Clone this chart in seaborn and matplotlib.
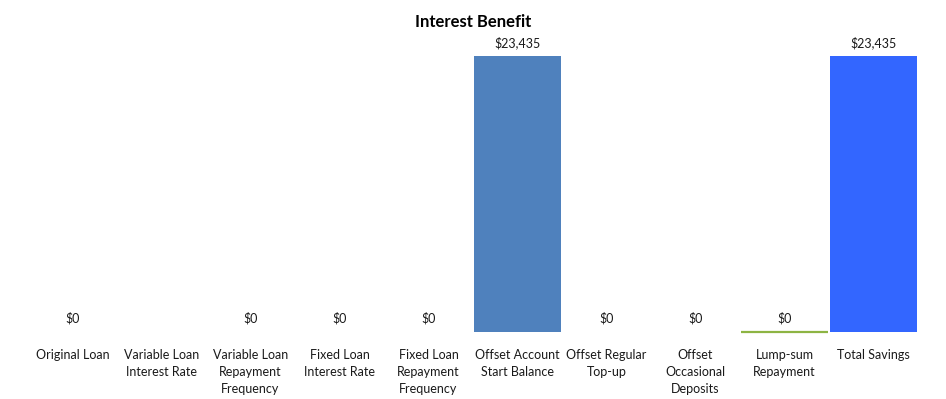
import numpy as np
import pandas as pd
import matplotlib.pyplot as plt
import seaborn as sns

categories = [
    "Original Loan",
    "Variable Loan\nInterest Rate",
    "Variable Loan\nRepayment\nFrequency",
    "Fixed Loan\nInterest Rate",
    "Fixed Loan\nRepayment\nFrequency",
    "Offset Account\nStart Balance",
    "Offset Regular\nTop-up",
    "Offset\nOccasional\nDeposits",
    "Lump-sum\nRepayment",
    "Total Savings",
]
values = [0, np.nan, 0, 0, 0, 23435, 0, 0, 0, 23435]

bar_colors = ["#4F81BD"] * 9 + ["#3366FF"]
edge_colors = ["none"] * 8 + ["#8DB443", "none"]

df = pd.DataFrame({"category": categories, "value": values})

sns.set_style("white")
plt.rcParams["font.family"] = ["Lato", "DejaVu Sans"]

fig = plt.figure(figsize=(9.46, 3.99), dpi=100)
ax = fig.add_axes([28 / 946, 67 / 399, 890 / 946, 294 / 399])

sns.barplot(
    data=df,
    x="category",
    y="value",
    hue="category",
    palette=bar_colors,
    saturation=1,
    legend=False,
    width=0.97,
    ax=ax,
)
for patch in ax.patches:
    idx = int(round(patch.get_x() + patch.get_width() / 2))
    ec = edge_colors[idx]
    patch.set_edgecolor(ec)
    patch.set_linewidth(1.6 if ec != "none" else 0)
    patch.set_clip_on(False)

for i, v in enumerate(values):
    if np.isnan(v):
        continue
    ax.annotate(
        f"${v:,.0f}",
        (i, v),
        xytext=(0, 5.5),
        textcoords="offset points",
        ha="center",
        va="bottom",
        fontsize=9,
        color="#1a1a1a",
    )

ax.set_ylim(0, 25000)
ax.set_xlim(-0.5, len(categories) - 0.5)
ax.set_xlabel("")
ax.set_ylabel("")
ax.set_yticks([])
ax.tick_params(axis="x", length=0, pad=12, labelsize=9, colors="#1a1a1a")
for lbl in ax.get_xticklabels():
    lbl.set_linespacing(1.5)
sns.despine(ax=ax, left=True, bottom=True)

fig.text(0.5, 1 - 22 / 399, "Interest Benefit", ha="center", va="center",
         fontsize=12, fontweight="bold", color="#000000")

fig.savefig("out.png", dpi=100)
